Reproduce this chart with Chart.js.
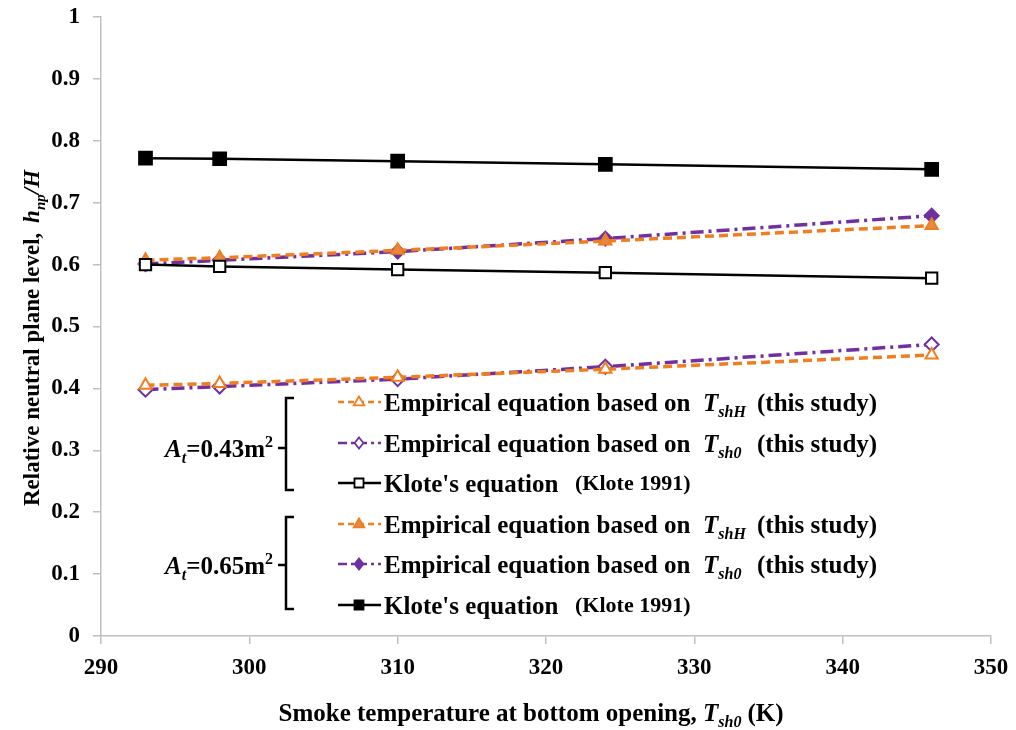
<!DOCTYPE html>
<html>
<head>
<meta charset="utf-8">
<script src="https://cdn.jsdelivr.net/npm/chart.js@4.4.1/dist/chart.umd.min.js"></script>
<style>
  html, body { margin: 0; padding: 0; background: #fff; }
  #wrap { width: 1016px; height: 730px; position: relative; }
</style>
</head>
<body>
<div id="wrap"><canvas id="npl-chart"></canvas></div>
<script>
// smoke temperature at the bottom opening (K)
const temps = [293, 298, 310, 324, 346];

// relative neutral plane level, opening area 0.43 m2
const empShH043 = [0.405, 0.408, 0.418, 0.431, 0.454];
const empSh0043 = [0.398, 0.403, 0.415, 0.435, 0.471];
const klote043  = [0.600, 0.597, 0.592, 0.587, 0.578];

// relative neutral plane level, opening area 0.65 m2
const empShH065 = [0.607, 0.611, 0.623, 0.638, 0.663];
const empSh0065 = [0.601, 0.607, 0.621, 0.642, 0.679];
const klote065  = [0.772, 0.771, 0.767, 0.762, 0.754];

const xTicks = [290, 300, 310, 320, 330, 340, 350];
const yTicks = [0, 0.1, 0.2, 0.3, 0.4, 0.5, 0.6, 0.7, 0.8, 0.9, 1];

const groupLabels = ['0.43', '0.65'];

const ORANGE = '#F07D1E';
const ORANGE_FILL = '#E48A47';
const PURPLE = '#7030A0';
const BLACK = '#000000';
const AXIS = '#BFBFBF';
const FONT = '"Liberation Serif", "Times New Roman", serif';

const DASH_EMP_H = [9, 5];
const DASH_EMP_0 = [13, 5, 3, 5];

function pts(ys) {
    return temps.map((t, i) => ({ x: t, y: ys[i] }));
}

// series style table used by both the plot and the legend
const seriesStyles = [
    { data: empShH043, color: ORANGE, fill: '#FFFFFF', marker: 'triangle', dash: DASH_EMP_H, width: 3.5, r: 7 },
    { data: empSh0043, color: PURPLE, fill: '#FFFFFF', marker: 'rectRot',  dash: DASH_EMP_0, width: 3.5, r: 7 },
    { data: klote043,  color: BLACK,  fill: '#FFFFFF', marker: 'rect',     dash: [],         width: 2.5, r: 8 },
    { data: empShH065, color: ORANGE, fill: ORANGE_FILL, marker: 'triangle', dash: DASH_EMP_H, width: 3.5, r: 7 },
    { data: empSh0065, color: PURPLE, fill: PURPLE,  marker: 'rectRot',  dash: DASH_EMP_0, width: 3.5, r: 7 },
    { data: klote065,  color: BLACK,  fill: BLACK,   marker: 'rect',     dash: [],         width: 2.5, r: 9 }
];

const datasets = seriesStyles.map(s => ({
    data: pts(s.data),
    borderColor: s.color,
    borderWidth: s.width,
    borderDash: s.dash,
    tension: 0,
    fill: false,
    pointStyle: s.marker,
    pointRadius: s.r,
    pointBorderWidth: 2,
    pointBorderColor: s.color,
    pointBackgroundColor: s.fill,
    clip: false
}));

// draws a row of text pieces with their own fonts and baseline shifts
function drawRuns(ctx, x, y, runs) {
    for (const r of runs) {
        ctx.font = r.font;
        ctx.fillText(r.text, x, y + (r.dy || 0));
        x += ctx.measureText(r.text).width + (r.gap || 0);
    }
    return x;
}

function runsWidth(ctx, runs) {
    let w = 0;
    for (const r of runs) {
        ctx.font = r.font;
        w += ctx.measureText(r.text).width + (r.gap || 0);
    }
    return w;
}

function drawMarker(ctx, kind, x, y, r, stroke, fill) {
    ctx.save();
    ctx.setLineDash([]);
    ctx.lineWidth = 1.8;
    ctx.strokeStyle = stroke;
    ctx.fillStyle = fill;
    ctx.beginPath();
    if (kind === 'triangle') {
        ctx.moveTo(x, y - r);
        ctx.lineTo(x + r * 0.95, y + r * 0.6);
        ctx.lineTo(x - r * 0.95, y + r * 0.6);
        ctx.closePath();
    } else if (kind === 'rectRot') {
        ctx.moveTo(x, y - r);
        ctx.lineTo(x + r * 0.8, y);
        ctx.lineTo(x, y + r);
        ctx.lineTo(x - r * 0.8, y);
        ctx.closePath();
    } else {
        ctx.rect(x - r, y - r, 2 * r, 2 * r);
    }
    ctx.fill();
    ctx.stroke();
    ctx.restore();
}

const B = 'bold 25px ' + FONT;
const BI = 'italic bold 25px ' + FONT;
const SUB = 'italic bold 16px ' + FONT;

// axis titles, grouped legend and brackets
const annotations = {
    id: 'annotations',
    afterDraw(chart) {
        const ctx = chart.ctx;
        ctx.save();
        ctx.fillStyle = '#000';
        ctx.textBaseline = 'alphabetic';
        ctx.textAlign = 'left';

        // x axis title
        const xRuns = [
            { text: 'Smoke temperature at bottom opening, ', font: B },
            { text: 'T', font: BI },
            { text: 'sh0', font: SUB, dy: 6, gap: 6 },
            { text: '(K)', font: B }
        ];
        const xw = runsWidth(ctx, xRuns);
        drawRuns(ctx, 531 - xw / 2, 721, xRuns);

        // y axis title
        const yTitle = 'bold 23px ' + FONT;
        const yTitleI = 'italic bold 23px ' + FONT;
        const yRuns = [
            { text: 'Relative neutral plane level, ', font: yTitle, gap: 4 },
            { text: 'h', font: yTitleI },
            { text: 'np', font: 'italic bold 15px ' + FONT, dy: 6 },
            { text: '/H', font: yTitleI }
        ];
        const yw = runsWidth(ctx, yRuns);
        ctx.save();
        ctx.translate(31, 338);
        ctx.rotate(-Math.PI / 2);
        drawRuns(ctx, -yw / 2, 8, yRuns);
        ctx.restore();

        // legend rows
        const rowY = [402, 443, 483, 524, 564, 605];
        seriesStyles.forEach((s, i) => {
            const y = rowY[i];
            ctx.save();
            ctx.strokeStyle = s.color;
            ctx.lineWidth = 2.5;
            ctx.setLineDash(s.dash.length ? (s.color === ORANGE ? [6, 4] : [9, 4, 3, 4]) : []);
            ctx.beginPath();
            ctx.moveTo(338, y);
            ctx.lineTo(381, y);
            ctx.stroke();
            ctx.restore();
            drawMarker(ctx, s.marker, 359, y, s.marker === 'rect' ? 4.5 : 5.5, s.color, s.fill);

            const base = y + 9;
            if (s.marker === 'rect') {
                drawRuns(ctx, 384, base, [{ text: "Klote's equation", font: B }]);
                drawRuns(ctx, 575, base - 2, [{ text: '(Klote 1991)', font: 'bold 22px ' + FONT }]);
            } else {
                drawRuns(ctx, 384, base, [{ text: 'Empirical equation based on', font: B }]);
                drawRuns(ctx, 703, base, [
                    { text: 'T', font: BI },
                    { text: s.marker === 'triangle' ? 'shH' : 'sh0', font: SUB, dy: 6 }
                ]);
                drawRuns(ctx, 757, base, [{ text: '(this study)', font: B }]);
            }
        });

        // brackets grouping the two opening areas
        const groups = [
            { top: 398, bottom: 490, mid: 448 },
            { top: 517, bottom: 609, mid: 565 }
        ];
        groups.forEach((g, i) => {
            ctx.save();
            ctx.strokeStyle = '#000';
            ctx.lineWidth = 2.5;
            ctx.beginPath();
            ctx.moveTo(294, g.top);
            ctx.lineTo(286, g.top);
            ctx.lineTo(286, g.bottom);
            ctx.lineTo(294, g.bottom);
            ctx.moveTo(286, g.mid);
            ctx.lineTo(278, g.mid);
            ctx.stroke();
            ctx.restore();

            const runs = [
                { text: 'A', font: BI },
                { text: 't', font: SUB, dy: 6 },
                { text: '=' + groupLabels[i] + 'm', font: B },
                { text: '2', font: 'bold 16px ' + FONT, dy: -10 }
            ];
            const w = runsWidth(ctx, runs);
            drawRuns(ctx, 273 - w, g.mid + 9, runs);
        });

        ctx.restore();
    }
};

const ctx = document.getElementById('npl-chart').getContext('2d');
new Chart(ctx, {
    type: 'line',
    data: { datasets: datasets },
    plugins: [annotations],
    options: {
        responsive: true,
        maintainAspectRatio: false,
        animation: false,
        layout: { padding: { left: 0, top: 17, right: 25, bottom: 0 } },
        plugins: {
            legend: { display: false },
            tooltip: { enabled: false }
        },
        scales: {
            x: {
                type: 'linear',
                min: 290,
                max: 350,
                afterBuildTicks: scale => { scale.ticks = xTicks.map(v => ({ value: v })); },
                afterFit: scale => {
                    scale.height = 94;
                    scale.paddingLeft = 0;
                    scale.paddingRight = 0;
                },
                grid: { drawOnChartArea: false, drawTicks: true, tickLength: 8, color: AXIS, lineWidth: 1.5 },
                border: { color: AXIS, width: 1.5 },
                ticks: {
                    color: '#000',
                    padding: 10,
                    maxRotation: 0,
                    font: { family: FONT, size: 23, weight: 'bold' }
                }
            },
            y: {
                min: 0,
                max: 1,
                afterBuildTicks: scale => { scale.ticks = yTicks.map(v => ({ value: v })); },
                afterFit: scale => {
                    scale.width = 101;
                    scale.paddingTop = 0;
                    scale.paddingBottom = 0;
                },
                grid: { drawOnChartArea: false, drawTicks: true, tickLength: 8, color: AXIS, lineWidth: 1.5 },
                border: { color: AXIS, width: 1.5 },
                ticks: {
                    color: '#000',
                    padding: 13,
                    font: { family: FONT, size: 23, weight: 'bold' },
                    callback: v => (v === 0 || v === 1) ? String(v) : v.toFixed(1)
                }
            }
        }
    }
});
</script>
</body>
</html>
